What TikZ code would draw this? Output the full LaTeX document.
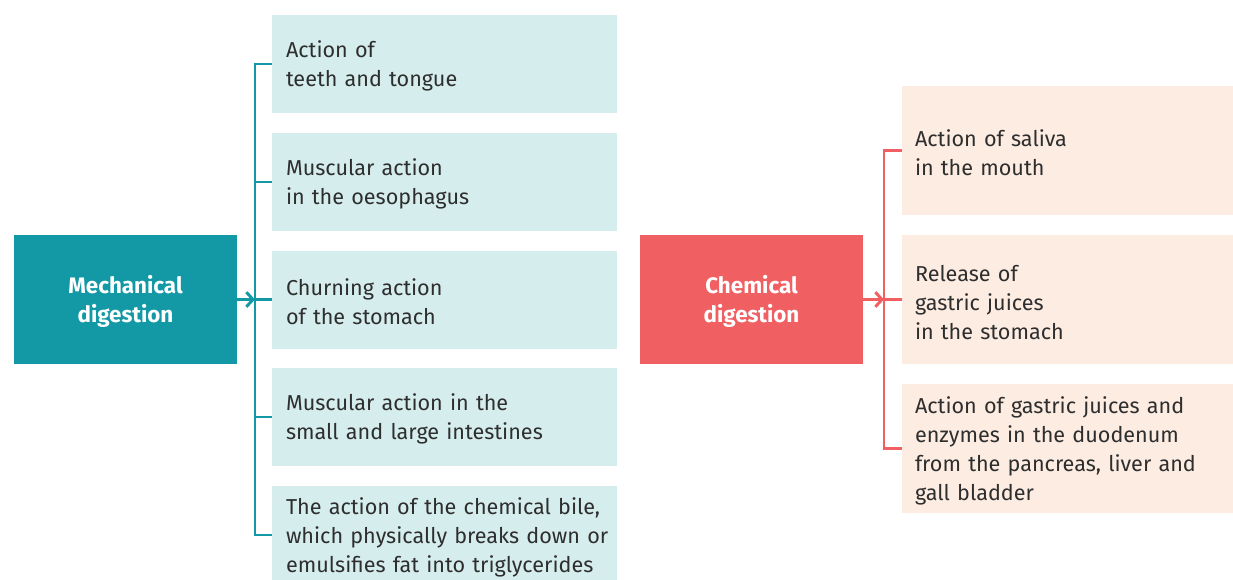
\documentclass[tikz,border=0pt]{standalone}
\usepackage{fontspec}
\setmainfont{Fira Sans}
\usetikzlibrary{arrows.meta}
\definecolor{tealmain}{HTML}{1299A5}
\definecolor{teallight}{HTML}{D6EDED}
\definecolor{redmain}{HTML}{F06062}
\definecolor{peach}{HTML}{FCECE2}
\definecolor{txt}{HTML}{2E2E2E}
\newcommand{\boxfont}{\fontsize{16.2pt}{21.75pt}\selectfont}
\newcommand{\mainfont}{\fontsize{16.8pt}{21.75pt}\selectfont\bfseries}
\newcommand{\topstrut}{\rule{0pt}{16pt}}
\begin{document}
\begin{tikzpicture}[x=0.75pt,y=-0.75pt,
  mainbox/.style={draw=none, text=white, font=\mainfont, align=center,
    minimum width=167.25pt, minimum height=96.75pt, inner sep=0pt},
  lbox/.style={fill=teallight, draw=none, text=txt, font=\boxfont, align=left,
    inner xsep=10.5pt, inner ysep=0pt, text width=237.75pt, minimum height=73.5pt,
    execute at begin node=\topstrut},
  rbox/.style={fill=peach, draw=none, text=txt, font=\boxfont, align=left,
    inner xsep=9.75pt, inner ysep=0pt, text width=228.75pt, minimum height=96.75pt,
    execute at begin node=\topstrut},
  tline/.style={draw=tealmain, line width=2.2pt},
  rline/.style={draw=redmain, line width=2.2pt},
  tip/.style={-{Straight Barb[length=5pt,width=11pt]}},
]
\useasboundingbox (0,0) rectangle (1233,579);

% left side
\node[mainbox, fill=tealmain] (mech) at (125.5,299.5) {\topstrut Mechanical\\digestion};
\node[lbox] (b1) at (444.5,64) {Action of\\teeth and tongue};
\node[lbox] (b2) at (444.5,182) {Muscular action\\in the oesophagus};
\node[lbox] (b3) at (444.5,299.5) {Churning action\\of the stomach};
\node[lbox] (b4) at (444.5,417) {Muscular action in the\\small and large intestines};
\node[lbox] (b5) at (444.5,535) {The action of the chemical bile,\\\mbox{which physically breaks down or}\\emulsifies fat into triglycerides};
\coordinate (mt) at (255,299.5);
\draw[tline] (b1.west) -| (mt |- b5.west) -- (b5.west);
\draw[tline] (b2.west) -- (mt |- b2.west);
\draw[tline] (b3.west) -- (mt);
\draw[tline] (b4.west) -- (mt |- b4.west);
\draw[tline, tip] (mech.east) -- (mt);

% right side
\node[mainbox, fill=redmain] (chem) at (751.5,299.5) {\topstrut Chemical\\digestion};
\node[rbox] (c1) at (1067.5,150.5) {Action of saliva\\in the mouth};
\node[rbox] (c2) at (1067.5,299.5) {Release of\\gastric juices\\in the stomach};
\node[rbox] (c3) at (1067.5,448.5) {Action of gastric juices and\\enzymes in the duodenum\\from the pancreas, liver and\\gall bladder};
\coordinate (ct) at (884,299.5);
\draw[rline] (c1.west) -| (ct |- c3.west) -- (c3.west);
\draw[rline] (c2.west) -- (ct);
\draw[rline, tip] (chem.east) -- (ct);
\end{tikzpicture}
\end{document}
